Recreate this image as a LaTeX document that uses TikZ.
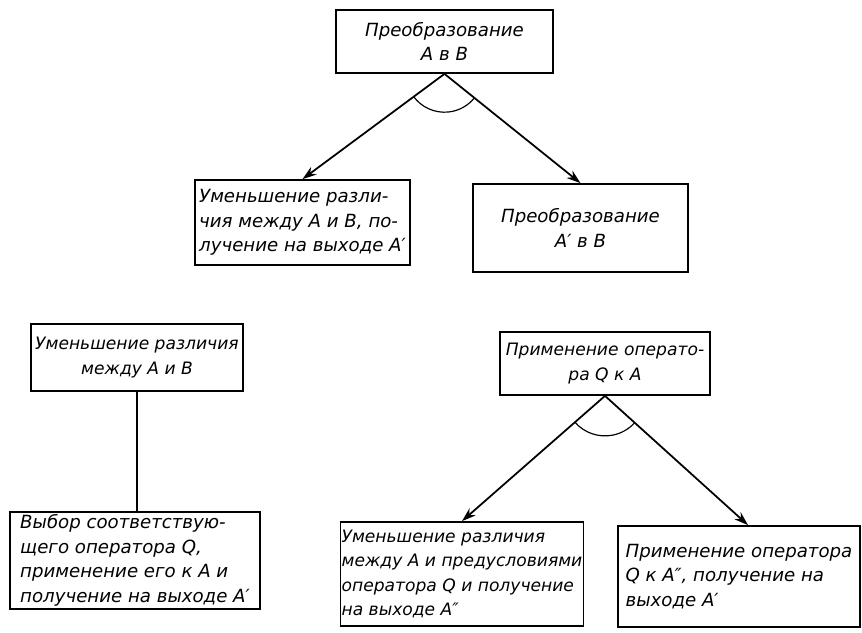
\documentclass[tikz,border=0pt]{standalone}
\usepackage{fontspec}
\setmainfont{DejaVu Sans}
\usepackage{tikz}
\usetikzlibrary{arrows.meta, positioning}

\begin{document}
\begin{tikzpicture}[
    block/.style={rectangle, draw, line width=1.5pt, inner sep=2pt, align=center, font=\itshape\fontsize{15.5}{21}\selectfont},
    leftblock/.style={block, align=left},
    smalltext/.style={inner sep=1pt, font=\itshape\fontsize{14.6}{21}\selectfont},
    arrow/.style={line width=1.5pt,-{Stealth[length=12pt,width=8pt]}},
    link/.style={line width=1pt},
    andarc/.style={line width=1pt}
]
\useasboundingbox (0,0) rectangle (25.86,-18.96);

% top goal and its two subgoals
\node [block, minimum width=6.51cm, minimum height=1.89cm] (goal) at (13.335,-1.245) {Преобразование\\A в B};
\node [leftblock, minimum width=6.45cm, minimum height=2.55cm] (reduceAB) at (9.075,-6.675) {Уменьшение разли-\\чия между A и B, по-\\лучение на выходе A′};
\node [block, minimum width=6.45cm, minimum height=2.64cm] (transA) at (17.415,-6.84) {Преобразование\\A′ в B};

% reduction subproblem
\node [block, smalltext, minimum width=6.36cm, minimum height=2.01cm] (reduce) at (4.11,-10.725) {Уменьшение различия\\между A и B};
\node [leftblock, minimum width=7.5cm, minimum height=2.85cm] (selectQ) at (4.05,-16.815) {Выбор соответствую-\\щего оператора Q,\\применение его к A и\\получение на выходе A′};

% operator application subproblem
\node [block, smalltext, minimum width=6.3cm, minimum height=1.89cm] (applyQ) at (18.15,-10.905) {Применение операто-\\ра Q к A};
\node [leftblock, smalltext, minimum width=7.26cm, minimum height=3.12cm] (reducePre) at (13.86,-17.22) {Уменьшение различия\\между A и предусловиями\\оператора Q и получение\\на выходе A″};
\node [leftblock, minimum width=7.26cm, minimum height=3.03cm] (applyQA) at (22.17,-17.295) {Применение оператора\\Q к A″, получение на\\выходе A′};

\draw [arrow] (goal.south) -- (reduceAB.north);
\draw [arrow] (goal.south) -- (transA.north);
\draw [andarc] (goal.south) ++(216:1.15) arc[start angle=216, end angle=321, radius=1.15cm];

\draw [link] (reduce.south) -- (reduce.south |- selectQ.north);

\draw [arrow] (applyQ.south) -- (reducePre.north);
\draw [arrow] (applyQ.south) -- ([xshift=0.27cm]applyQA.north);
\draw [andarc] (applyQ.south) ++(221:1.2) arc[start angle=221, end angle=318, radius=1.2cm];

\end{tikzpicture}
\end{document}
